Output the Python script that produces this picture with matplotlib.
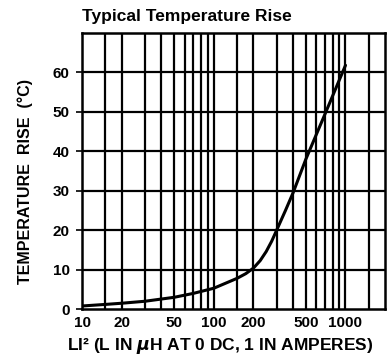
import numpy as np
import matplotlib
matplotlib.use('Agg')
import matplotlib.pyplot as plt

# values
li2 = [10, 15, 20, 30, 50, 70, 100, 150, 175, 200, 225, 250, 275, 300, 350,
       400, 500, 700, 1000]
temp_rise = [0.8, 1.2, 1.5, 2.0, 3.0, 4.0, 5.3, 7.8, 9.0, 10.4, 12.3, 14.6, 17.2,
             20.0, 25.0, 29.5, 38.0, 49.5, 61.8]

x_grid = [15, 20, 30, 40, 50, 60, 70, 80, 90, 100, 150, 200, 300, 400, 500,
          600, 700, 800, 900, 1000, 1500]
x_labels = [10, 20, 50, 100, 200, 500, 1000]
y_ticks = [0, 10, 20, 30, 40, 50, 60]

plt.rcParams['font.family'] = ['Liberation Sans', 'DejaVu Sans']
plt.rcParams['font.weight'] = 'bold'

fig = plt.figure(figsize=(3.91, 3.62), dpi=100)
ax = fig.add_axes([0.21, 0.146, 0.775, 0.763])

ax.set_xscale('log')
ax.set_xlim(10, 2000)
ax.set_ylim(0, 70)

# grid lines drawn by hand so that 15/150/1500 are included
for xv in x_grid:
    ax.axvline(xv, color='black', lw=1.6, zorder=1)
for yv in y_ticks[1:]:
    ax.axhline(yv, color='black', lw=1.6, zorder=1)

ax.plot(li2, temp_rise, color='black', lw=2.2, zorder=3, solid_capstyle='round')

ax.set_xticks(x_labels)
ax.set_xticklabels([str(v) for v in x_labels])
ax.xaxis.set_minor_locator(matplotlib.ticker.NullLocator())
ax.set_yticks(y_ticks)
ax.tick_params(axis='x', length=0, pad=5, labelsize=11)
ax.tick_params(axis='y', length=4, width=1.2, pad=5, labelsize=11)

for sp in ax.spines.values():
    sp.set_linewidth(1.8)

fig.text(82 / 391, 1 - 17 / 362, 'Typical Temperature Rise', ha='left', va='center',
         fontsize=12.5, fontweight='bold')
fig.text(220 / 391, 1 - 346 / 362, 'LI² (L IN $\\mu$H AT 0 DC, 1 IN AMPERES)',
         ha='center', va='center', fontsize=12.5, fontweight='bold')
fig.text(25 / 391, 1 - 181 / 362, 'TEMPERATURE  RISE  (°C)', ha='center', va='center',
         rotation=90, fontsize=11.5, fontweight='bold')

fig.savefig('out.png', dpi=100)
